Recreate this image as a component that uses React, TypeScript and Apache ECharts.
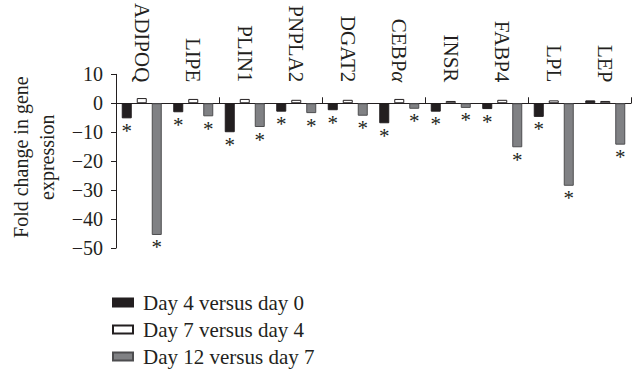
import React, { useEffect, useRef } from "react";
import * as echarts from "echarts";

const categories = ["ADIPOQ", "LIPE", "PLIN1", "PNPLA2", "DGAT2", "CEBPα", "INSR", "FABP4", "LPL", "LEP"];
const day4vs0 = [-5.2, -3.1, -10, -2.9, -2.4, -6.9, -2.9, -2.0, -4.7, 1.0];
const day7vs4 = [1.8, 1.5, 1.5, 1.2, 1.2, 1.5, 0.8, 1.2, 1.0, 0.8];
const day12vs7 = [-45.5, -4.5, -8.2, -3.4, -4.3, -1.9, -1.6, -15.2, -28.5, -14.3];
const sig4vs0 = [true, true, true, true, true, true, true, true, true, false];
const sig7vs4 = [false, false, false, false, false, false, false, false, false, false];
const sig12vs7 = [true, true, true, true, true, true, true, true, true, true];
const seriesNames = ["Day 4 versus day 0", "Day 7 versus day 4", "Day 12 versus day 7"];
const yTicks = [-50, -40, -30, -20, -10, 0, 10];

const FONT = "'Liberation Serif', 'DejaVu Serif', serif";
const INK = "#231f20";

export default function App() {
  const ref = useRef<HTMLDivElement>(null);
  useEffect(() => {
    if (!ref.current) return;
    const chart = echarts.init(ref.current, null, { renderer: "svg" });
    const mk = (vals: number[], sig: boolean[]) =>
      vals.map((v, i) => ({
        value: v,
        label: {
          show: sig[i],
          formatter: "*",
          position: "bottom",
          distance: 2,
          fontSize: 21,
          fontFamily: FONT,
          color: INK,
        },
      }));
    const styles = [
      { color: INK, borderColor: INK },
      { color: "#ffffff", borderColor: INK },
      { color: "#808184", borderColor: "#4d4d4f" },
    ];
    const dataSets = [
      mk(day4vs0, sig4vs0),
      mk(day7vs4, sig7vs4),
      mk(day12vs7, sig12vs7),
    ];
    chart.setOption({
      animation: false,
      textStyle: { fontFamily: FONT },
      grid: { left: 111, right: 1, top: 74, bottom: 122, containLabel: false },
      legend: {
        orient: "vertical",
        left: 112,
        top: 292,
        padding: 0,
        height: 78,
        itemGap: 6,
        itemWidth: 20,
        itemHeight: 8,
        icon: "rect",
        data: seriesNames,
        textStyle: { fontSize: 21, lineHeight: 21, fontFamily: FONT, color: INK, padding: [0, 0, 0, 5] },
      },
      xAxis: [
        {
          type: "category",
          data: categories,
          axisLine: { onZero: true, lineStyle: { color: INK, width: 1 } },
          axisTick: { show: true, inside: true, length: 6, lineStyle: { color: INK } },
          axisLabel: { show: false },
          splitLine: { show: false },
        },
        {
          type: "category",
          data: categories,
          position: "top",
          offset: -8,
          axisLine: { show: false },
          axisTick: { show: false },
          axisLabel: {
            rotate: 90,
            margin: 0,
            fontSize: 21,
            fontFamily: FONT,
            color: INK,
            formatter: (v: string) => (v.endsWith("α") ? v.slice(0, -1) + "{g|α}" : v),
            rich: {
              g: { fontStyle: "italic", fontSize: 21, fontFamily: FONT, color: INK },
            },
          },
          splitLine: { show: false },
        },
      ],
      yAxis: {
        type: "value",
        min: yTicks[0],
        max: yTicks[yTicks.length - 1],
        interval: 10,
        name: "Fold change in gene\nexpression",
        nameLocation: "middle",
        nameGap: 56,
        nameRotate: 90,
        nameTextStyle: { fontSize: 20, fontFamily: FONT, color: INK, lineHeight: 26, padding: [0, 0, 0, 8] },
        axisLine: { show: true, lineStyle: { color: INK, width: 1 } },
        axisTick: { show: true, length: 5, lineStyle: { color: INK } },
        axisLabel: {
          fontSize: 20,
          fontFamily: FONT,
          color: INK,
          margin: 13,
          formatter: (v: number) => (v < 0 ? "\u2212" + Math.abs(v) : String(v)),
        },
        splitLine: { show: false },
      },
      series: seriesNames.map((n, k) => ({
        name: n,
        type: "bar",
        xAxisIndex: 0,
        barWidth: 10,
        barGap: "50%",
        itemStyle: { ...styles[k], borderWidth: 1 },
        data: dataSets[k],
      })),
    });
    return () => chart.dispose();
  }, []);
  return <div ref={ref} style={{ width: 632, height: 370, position: "absolute", left: 0, top: 0 }} />;
}
